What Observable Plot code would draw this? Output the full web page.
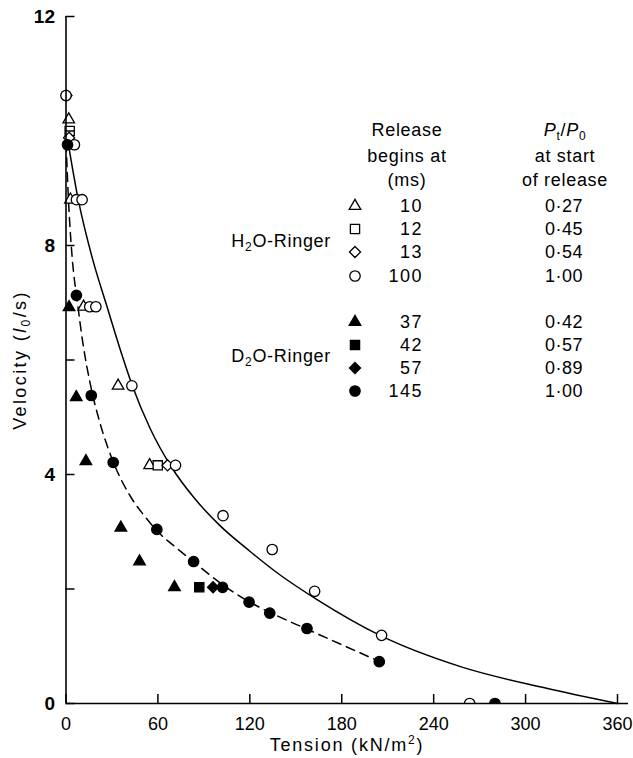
<!DOCTYPE html>
<html><head><meta charset="utf-8">
<script src="https://cdn.jsdelivr.net/npm/d3@7"></script>
<script src="https://cdn.jsdelivr.net/npm/@observablehq/plot@0.6"></script>
<style>
body{margin:0;background:#fff;font-family:"Liberation Sans",Arial,sans-serif;color:#000;}
#wrap{position:relative;width:633px;height:758px;overflow:hidden;}
.t{position:absolute;font-size:18px;line-height:20px;height:20px;white-space:nowrap;letter-spacing:0.7px;}
.c{text-align:center;width:200px;}
.r{text-align:right;width:150px;}
sub{font-size:12px;vertical-align:-4px;line-height:0;}
</style></head><body><div id="wrap"></div>
<script>
// ---- axis ticks ----
const xTicks = [0, 60, 120, 180, 240, 300, 360];
const yTicks = [0, 2, 4, 6, 8, 10, 12];
const yTickLabels = [0, 4, 8, 12];

// ---- H2O-Ringer (open symbols): [tension kN/m2, velocity l0/s] ----
const h2o10 = [[1.8,10.2],[2.9,8.8],[11.5,6.93],[34,5.55],[54.6,4.16]];
const h2o12 = [[2.4,10.0],[59.9,4.16]];
const h2o13 = [[0.3,10.62],[2,9.88],[66.3,4.16]];
const h2o100 = [[0,10.62],[5.5,9.76],[6.8,8.8],[10.5,8.8],[15.5,6.93],[19.5,6.93],[43,5.55],[71.5,4.16],[102.5,3.28],[134.6,2.69],[162.3,1.96],[206,1.19],[263.5,0]];

// ---- D2O-Ringer (filled symbols) ----
const d2o37 = [[2,6.92],[6.7,5.35],[13,4.23],[35.8,3.07],[48,2.48],[70.8,2.03]];
const d2o42 = [[87,2.03]];
const d2o57 = [[96,2.03]];
const d2o145 = [[1,9.76],[6.8,7.13],[16.5,5.38],[30.8,4.21],[59.3,3.04],[83.3,2.48],[102.2,2.03],[119.5,1.77],[133,1.58],[157.3,1.31],[204.5,0.73],[280,0]];

// ---- fitted curves ----
const h2oCurve = [[0,10.02],[8,8.8],[18,7.7],[26,7.0],[37,6.05],[43.3,5.55],[55,4.8],[68.6,4.14],[84,3.58],[100,3.12],[120,2.66],[140,2.24],[163.6,1.82],[205,1.19],[258,0.64],[313,0.27],[360,0]];
const d2oCurve = [[0,9.8],[2,8.6],[4,7.8],[7.5,7.0],[11,6.3],[16.5,5.5],[22.4,4.88],[31,4.21],[42,3.62],[52,3.25],[60,3.0],[72,2.72],[84,2.46],[102,2.08],[120,1.77],[134,1.58],[158,1.29],[205,0.73]];

// ---- legend ----
const legendGroups = ["H₂O-Ringer", "D₂O-Ringer"];
const legendMs = [10, 12, 13, 100, 37, 42, 57, 145];
const legendRatio = ["0·27", "0·45", "0·54", "1·00", "0·42", "0·57", "0·89", "1·00"];

const series = [
  {data: h2o10, symbol: "triangle", r: 4.3, filled: false},
  {data: h2o12, symbol: "square", r: 5.2, filled: false},
  {data: h2o13, symbol: "diamond2", r: 5, filled: false},
  {data: h2o100, symbol: "circle", r: 5.2, filled: false},
  {data: d2o37, symbol: "triangle", r: 4.3, filled: true},
  {data: d2o42, symbol: "square", r: 5.2, filled: true},
  {data: d2o57, symbol: "diamond2", r: 5, filled: true},
  {data: d2o145, symbol: "circle", r: 5.2, filled: true}
];

const W = 633, H = 758, mL = 65.5, mR = 16, mT = 16, mB = 55, tickLen = 9;
const frameW = W - mL - mR, frameH = H - mT - mB;

const dotMarks = [];
for (const s of series) {
  const opts = {x: d => d[0], y: d => d[1], symbol: s.symbol, r: s.r,
    fill: s.filled ? "black" : "white", stroke: "black", strokeWidth: 1.3};
  dotMarks.push(Plot.dot(s.data.filter(d => d[1] !== 0), opts));
  dotMarks.push(Plot.dot(s.data.filter(d => d[1] === 0), {...opts, clip: true}));
}

const chart = Plot.plot({
  width: W, height: H,
  marginLeft: mL, marginRight: mR, marginTop: mT, marginBottom: mB,
  x: {domain: [0, 360], label: null},
  y: {domain: [0, 12], label: null},
  style: {fontFamily: "'Liberation Sans', Arial, sans-serif", fontSize: "18px", color: "black", background: "white"},
  marks: [
    Plot.line(h2oCurve, {x: d => d[0], y: d => d[1], curve: "monotone-x", stroke: "black", strokeWidth: 1.5}),
    Plot.line(d2oCurve, {x: d => d[0], y: d => d[1], curve: "monotone-x", stroke: "black", strokeWidth: 1.5, strokeDasharray: "9,6"}),
    ...dotMarks,
    Plot.tickX(xTicks, {x: d => d, insetTop: frameH - tickLen, stroke: "black", strokeWidth: 1.5}),
    Plot.tickY(yTicks, {y: d => d, insetRight: frameW - tickLen, stroke: "black", strokeWidth: 1.5}),
    Plot.axisX({ticks: xTicks, tickSize: 0, tickPadding: 14, fontSize: 18, label: null}),
    Plot.axisY({ticks: yTicks, tickSize: 0, tickPadding: 11, fontSize: 19, fontWeight: "bold", label: null,
      tickFormat: d => yTickLabels.includes(d) ? String(d) : ""}),
    Plot.ruleX([0], {stroke: "black", strokeWidth: 1.6}),
    Plot.ruleY([0], {stroke: "black", strokeWidth: 1.6, insetRight: -11})
  ]
});
const wrap = document.getElementById("wrap");
wrap.appendChild(chart);

function addText(html, cls, left, top, extra) {
  const d = document.createElement("div");
  d.className = "t " + cls;
  d.style.left = left + "px";
  d.style.top = top + "px";
  if (extra) Object.assign(d.style, extra);
  d.innerHTML = html;
  wrap.appendChild(d);
  return d;
}

// axis titles
addText("Tension (kN/m<sup style='font-size:12px;vertical-align:7px;line-height:0'>2</sup>)", "c", 347 - 100, 735, {letterSpacing: "1.8px"});
addText("Velocity (<i>l</i><sub>0</sub>/s)", "c", 20 - 100, 350, {transform: "rotate(-90deg)", transformOrigin: "100px 10px", letterSpacing: "2.4px"});

// legend headers
const c1 = 407, c2 = 565;
addText("Release", "c", c1 - 100, 120);
addText("begins at", "c", c1 - 100, 146);
addText("(ms)", "c", c1 - 100, 170);
addText("<i>P</i><sub>t</sub>/<i>P</i><sub>0</sub>", "c", c2 - 100, 120);
addText("at start", "c", c2 - 100, 146);
addText("of release", "c", c2 - 100, 170);

const rowY = [206, 229, 252, 276, 322, 345, 368, 391];
const groupY = [241, 356];
legendGroups.forEach((g, i) => {
  addText(g.replace("₂", "<sub>2</sub>"), "r", 331 - 150, groupY[i] - 10);
});
const symMap = {triangle: d3.symbolTriangle, square: d3.symbolSquare, diamond2: d3.symbolDiamond2, circle: d3.symbolCircle};
legendMs.forEach((m, i) => {
  addText(String(m), "r", 423 - 150, rowY[i] - 10, {letterSpacing: "1.5px"});
  addText(legendRatio[i], "r", 583 - 150, rowY[i] - 10, {letterSpacing: "0.5px"});
  const s = series[i];
  const svg = d3.create("svg").attr("width", 20).attr("height", 20)
    .style("position", "absolute").style("left", (355 - 10) + "px").style("top", (rowY[i] - 10) + "px");
  svg.append("path").attr("transform", "translate(10,10)")
    .attr("d", d3.symbol(symMap[s.symbol], Math.PI * s.r * s.r)())
    .attr("fill", s.filled ? "black" : "white").attr("stroke", "black").attr("stroke-width", 1.3);
  wrap.appendChild(svg.node());
});
</script></body></html>
